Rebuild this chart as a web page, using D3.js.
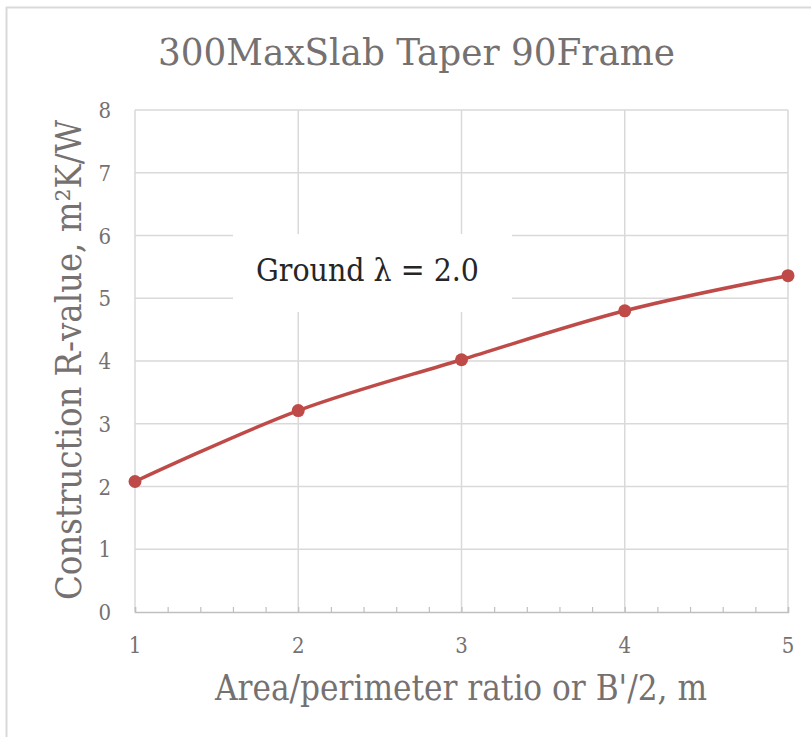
<!DOCTYPE html>
<html><head><meta charset="utf-8">
<script src="https://cdn.jsdelivr.net/npm/d3@7"></script>
<style>
html,body{margin:0;padding:0;background:#fff;}
svg{display:block;}
</style></head>
<body>
<script>
const xValues = [1, 2, 3, 4, 5];
const rValues = [2.08, 3.21, 4.02, 4.80, 5.36];
const yTicks = [0, 1, 2, 3, 4, 5, 6, 7, 8];
const xTicks = [1, 2, 3, 4, 5];
const titleText = "300MaxSlab Taper 90Frame";
const xTitle = "Area/perimeter ratio or B'/2, m";
const yTitle = "Construction R-value, m²K/W";
const noteText = "Ground λ = 2.0";

const W = 811, H = 737;
const font = "'DejaVu Serif Condensed', 'DejaVu Serif', 'Liberation Serif', serif";
const grey = "#767171";
const svg = d3.select("body").append("svg").attr("width", W).attr("height", H);

// outer border (top & left visible)
svg.append("line").attr("x1", 6.5).attr("x2", 6.5).attr("y1", 7).attr("y2", H).attr("stroke", "#d9d9d9").attr("stroke-width", 2);
svg.append("line").attr("x1", 6).attr("x2", W).attr("y1", 7.5).attr("y2", 7.5).attr("stroke", "#d9d9d9").attr("stroke-width", 2);

const x = d3.scaleLinear().domain([1, 5]).range([135, 788]);
const y = d3.scaleLinear().domain([0, 8]).range([612, 110]);

// gridlines
const g = svg.append("g");
g.selectAll(".hg").data(yTicks.filter(d => d > 0)).join("line")
  .attr("x1", x(1)).attr("x2", x(5)).attr("y1", d => y(d)).attr("y2", d => y(d))
  .attr("stroke", "#d9d9d9").attr("stroke-width", 1.5);
g.selectAll(".vg").data(xTicks).join("line")
  .attr("x1", d => x(d)).attr("x2", d => x(d)).attr("y1", y(0)).attr("y2", y(8))
  .attr("stroke", "#d9d9d9").attr("stroke-width", 1.5);

// bottom axis
const xAxis = d3.axisBottom(x).tickValues(d3.range(1, 5.001, 0.2)).tickSize(-5).tickFormat("");
const ax = svg.append("g").attr("transform", `translate(0,${y(0)})`).call(xAxis);
ax.select(".domain").attr("stroke", "#bfbfbf").attr("stroke-width", 1.5);
ax.selectAll(".tick line").attr("stroke", "#bfbfbf").attr("stroke-width", 1.2);

// tick labels
svg.append("g").selectAll("text").data(xTicks).join("text")
  .attr("x", d => x(d)).attr("y", 653).attr("text-anchor", "middle")
  .attr("font-family", font).attr("font-size", 22).attr("fill", grey).text(d => d);
svg.append("g").selectAll("text").data(yTicks).join("text")
  .attr("x", 111).attr("y", d => y(d) + 8).attr("text-anchor", "end")
  .attr("font-family", font).attr("font-size", 22).attr("fill", grey).text(d => d);

// note box
svg.append("rect").attr("x", 233).attr("y", 234).attr("width", 279).attr("height", 78).attr("fill", "#fff");
svg.append("text").attr("x", 256).attr("y", 281).attr("font-family", font).attr("font-size", 32)
  .attr("fill", "#262626").attr("textLength", 223).attr("lengthAdjust", "spacingAndGlyphs").text(noteText);

// line
const line = d3.line().x((d, i) => x(xValues[i])).y(d => y(d)).curve(d3.curveCatmullRom.alpha(0.5));
svg.append("path").datum(rValues).attr("d", line).attr("fill", "none")
  .attr("stroke", "#be4b48").attr("stroke-width", 3.5).attr("stroke-linecap", "round");
svg.append("g").selectAll("circle").data(rValues).join("circle")
  .attr("cx", (d, i) => x(xValues[i])).attr("cy", d => y(d)).attr("r", 6.5).attr("fill", "#be4b48");

// titles
svg.append("text").attr("x", 158).attr("y", 65).attr("font-family", font).attr("font-size", 38)
  .attr("fill", grey).attr("textLength", 517).attr("lengthAdjust", "spacingAndGlyphs").text(titleText);
svg.append("text").attr("x", 215).attr("y", 700).attr("font-family", font).attr("font-size", 35)
  .attr("fill", grey).attr("textLength", 492).attr("lengthAdjust", "spacingAndGlyphs").text(xTitle);
svg.append("text").attr("transform", "translate(81,600) rotate(-90)").attr("x", 0).attr("y", 0)
  .attr("font-family", font).attr("font-size", 35)
  .attr("fill", grey).attr("textLength", 480).attr("lengthAdjust", "spacingAndGlyphs").text(yTitle);
</script>
</body></html>
